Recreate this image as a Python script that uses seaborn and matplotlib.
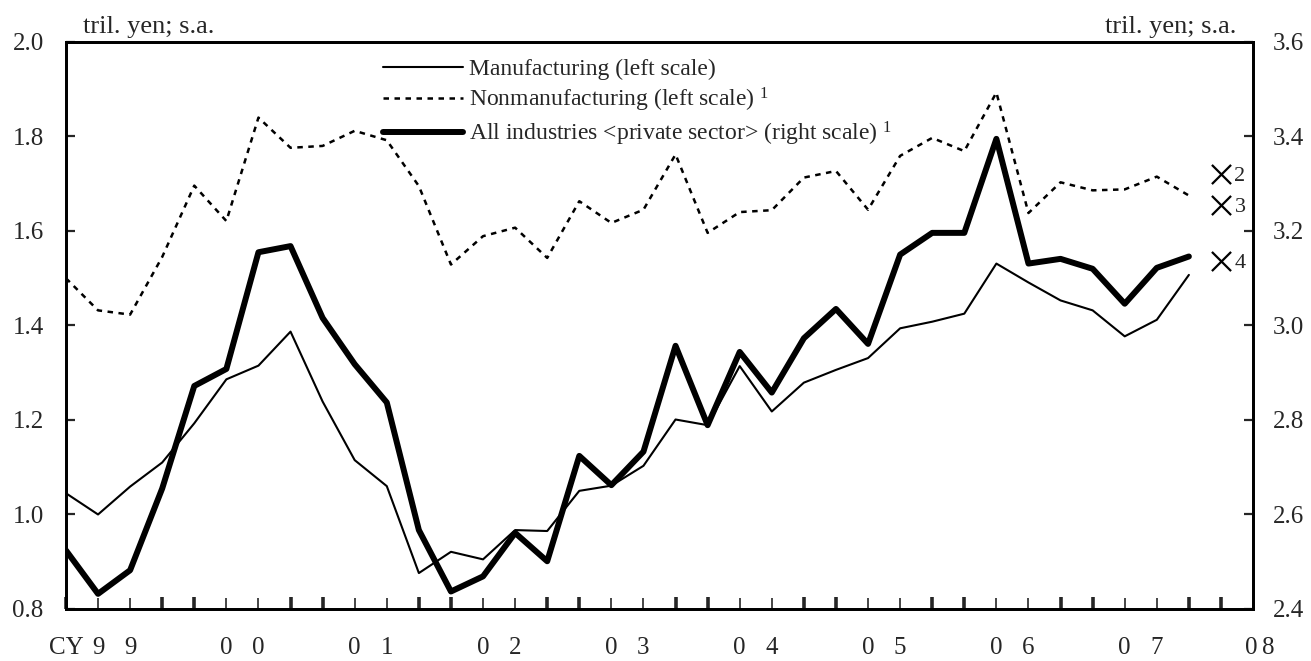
import numpy as np
import pandas as pd
import matplotlib
matplotlib.use("Agg")
import matplotlib.pyplot as plt
import matplotlib.transforms as mtransforms
import seaborn as sns

# quarterly values, CY1999 Q1 .. CY2007 Q4 (tril. yen, s.a.)
manufacturing = [1.045, 1.000, 1.059, 1.110, 1.193, 1.286, 1.315, 1.387, 1.239, 1.115,
                 1.060, 0.876, 0.921, 0.905, 0.967, 0.965, 1.050, 1.061, 1.103, 1.201,
                 1.189, 1.314, 1.218, 1.279, 1.306, 1.331, 1.394, 1.408, 1.425, 1.531,
                 1.491, 1.453, 1.432, 1.377, 1.412, 1.507]
nonmanufacturing = [1.500, 1.432, 1.423, 1.545, 1.696, 1.621, 1.840, 1.776, 1.780, 1.812,
                    1.792, 1.695, 1.529, 1.589, 1.607, 1.543, 1.663, 1.617, 1.645, 1.762,
                    1.596, 1.640, 1.644, 1.713, 1.727, 1.645, 1.759, 1.797, 1.769, 1.893,
                    1.638, 1.703, 1.686, 1.688, 1.715, 1.675]
all_industries = [2.524, 2.432, 2.482, 2.655, 2.872, 2.908, 3.155, 3.168, 3.016, 2.918,
                  2.837, 2.567, 2.437, 2.469, 2.561, 2.501, 2.724, 2.662, 2.733, 2.957,
                  2.789, 2.944, 2.858, 2.973, 3.035, 2.961, 3.150, 3.196, 3.196, 3.395,
                  3.131, 3.141, 3.120, 3.046, 3.122, 3.146]
year_labels = ['99', '00', '01', '02', '03', '04', '05', '06', '07']

# plans for 2008 Q1 (x marks)
forecast_labels = ['2', '3']
forecast_left = [1.720, 1.656]
forecast_right_label = '4'
forecast_right = 3.136

sns.set_style('ticks')
plt.rcParams['font.family'] = ['Liberation Serif', 'DejaVu Serif']
plt.rcParams['mathtext.fontset'] = 'custom'
plt.rcParams['mathtext.rm'] = 'Liberation Serif'
plt.rcParams['mathtext.it'] = 'Liberation Serif:italic'

df = pd.DataFrame({'q': np.arange(len(manufacturing)),
                   'manu': manufacturing,
                   'nonmanu': nonmanufacturing,
                   'all': all_industries})

fig = plt.figure(figsize=(13.11, 6.61), dpi=100)
ax = fig.add_axes([0.0503, 0.0787, 0.9055, 0.8578])
ax2 = ax.twinx()

sns.lineplot(data=df, x='q', y='manu', ax=ax, color='black', lw=1.5,
             label='Manufacturing (left scale)', legend=False)
sns.lineplot(data=df, x='q', y='nonmanu', ax=ax, color='black', lw=1.8,
             linestyle=(0, (2.2, 2.2)),
             label='Nonmanufacturing (left scale) $^{1}$', legend=False)
sns.lineplot(data=df, x='q', y='all', ax=ax2, color='black', lw=4.3,
             label='All industries <private sector> (right scale) $^{1}$', legend=False)

# x marks for 2008 Q1
n = len(manufacturing)
sns.scatterplot(x=[n] * len(forecast_left), y=forecast_left, ax=ax, marker='x',
                s=190, color='black', linewidth=1.6, legend=False, clip_on=False)
sns.scatterplot(x=[n], y=[forecast_right], ax=ax2, marker='x',
                s=190, color='black', linewidth=1.6, legend=False, clip_on=False)
for lab, v in zip(forecast_labels, forecast_left):
    ax.text(n + 0.42, v, lab, fontsize=16, ha='left', va='center_baseline')
ax2.text(n + 0.42, forecast_right, forecast_right_label, fontsize=16, ha='left',
         va='center_baseline')

# axes
ax.set_xlim(0, n + 1)
ax.set_ylim(0.8, 2.0)
ax2.set_ylim(2.4, 3.6)
yt = np.arange(0.8, 2.01, 0.2)
ax.set_yticks(yt)
ax.set_yticklabels([f'{v:.1f}' for v in yt])
yt2 = np.arange(2.4, 3.61, 0.2)
ax2.set_yticks(yt2)
ax2.set_yticklabels([f'{v:.1f}' for v in yt2])
ax.set_xlabel('')
ax.set_ylabel('')
ax2.set_ylabel('')

thick = [q for q in range(n + 1) if q % 4 in (0, 3)]
thin = [q for q in range(n + 1) if q % 4 in (1, 2)]
ax.set_xticks(thick)
ax.set_xticks(thin, minor=True)
ax.tick_params(axis='x', which='major', direction='in', length=9, width=2.6, labelbottom=False)
ax.tick_params(axis='x', which='minor', direction='in', length=8, width=1.2, labelbottom=False)
ax.tick_params(axis='y', direction='in', length=6.5, width=1.6, labelsize=18, pad=16)
ax2.tick_params(axis='y', direction='in', length=6.5, width=1.6, labelsize=18, pad=14)
ax.tick_params(axis='y', which='minor', left=False)
ax2.tick_params(axis='y', which='minor', right=False)

for a in (ax, ax2):
    for s in a.spines.values():
        s.set_linewidth(2.0)
        s.set_color('black')

# year labels under the axis
trans = mtransforms.blended_transform_factory(ax.transData, ax.transAxes)
ax.text(0, -0.069, 'CY', transform=trans, fontsize=18, ha='center', va='center')
for k, lab in enumerate(year_labels):
    ax.text(4 * k + 1, -0.069, lab[0], transform=trans, fontsize=18, ha='center', va='center')
    ax.text(4 * k + 2, -0.069, lab[1], transform=trans, fontsize=18, ha='center', va='center')
ax.text(36.95, -0.069, '0', transform=trans, fontsize=18, ha='center', va='center', clip_on=False)
ax.text(37.47, -0.069, '8', transform=trans, fontsize=18, ha='center', va='center', clip_on=False)

ax.text(0.0143, 1.016, 'tril. yen; s.a.', transform=ax.transAxes, fontsize=19,
        ha='left', va='baseline')
ax.text(0.9857, 1.016, 'tril. yen; s.a.', transform=ax.transAxes, fontsize=19,
        ha='right', va='baseline')

h1, l1 = ax.get_legend_handles_labels()
h2, l2 = ax2.get_legend_handles_labels()
ax2.legend(h1 + h2, l1 + l2, loc='upper left', bbox_to_anchor=(0.267, 0.971),
           frameon=False, fontsize=17, handlelength=3.39, handletextpad=0.25,
           labelspacing=0.25, borderpad=0, borderaxespad=0)

fig.savefig('out.png', dpi=100)
